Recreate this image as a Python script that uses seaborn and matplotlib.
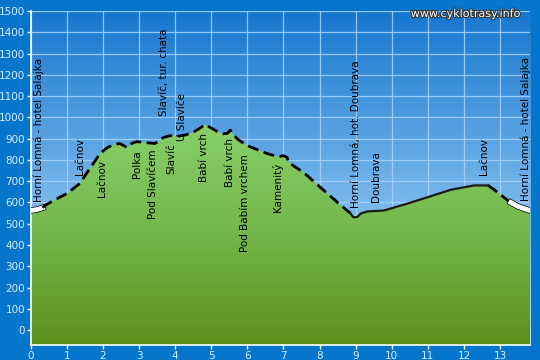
from matplotlib import pyplot as plt
from matplotlib.colors import LinearSegmentedColormap
from matplotlib.patches import Polygon
import matplotlib.patheffects as pe
import numpy as np
import pandas
import seaborn as sns

# elevation profile (km, m)
dist = [0.0, 0.15, 0.33, 0.39, 0.7, 1.0, 1.36, 1.6, 1.92, 2.1, 2.28, 2.47, 2.67, 2.8, 2.94,
        3.22, 3.44, 3.55, 3.67, 3.86, 4.1, 4.3, 4.5, 4.65, 4.83, 5.0, 5.15, 5.33, 5.45, 5.53,
        5.6, 5.75, 6.0, 6.55, 6.85, 7.0, 7.1, 7.14, 7.56, 8.03, 8.5, 8.85, 8.94, 9.05, 9.14,
        9.33, 9.78, 10.44, 11.0, 11.64, 12.28, 12.67, 12.94, 13.22, 13.3, 13.5, 13.83]
elev = [562, 566, 575, 586, 615, 642, 689, 750, 830, 855, 872, 877, 858, 878, 886,
        881, 877, 890, 905, 914, 912, 918, 930, 945, 966, 950, 935, 923, 925, 940,
        920, 895, 867, 830, 815, 820, 812, 788, 741, 670, 600, 550, 530, 532, 548,
        558, 562, 595, 625, 660, 680, 680, 647, 609, 600, 581, 562]

# surface segments: (start km, end km, style)
seg_start = [0.0, 0.33, 8.85, 12.67, 13.3]
seg_end = [0.33, 8.85, 12.67, 13.3, 13.83]
seg_style = ["white", "dashed", "solid", "dashed", "white"]

# place labels
label_text = ["Horní Lomná - hotel Salajka", "Lačnov", "Lačnov", "Polka", "Pod Slavíčem",
              "Slavíč, tur. chata", "Slavíč", "U Slavíče", "Babí vrch", "Babí vrch",
              "Pod Babím vrchem", "Kamenitý", "Horní Lomná, hot. Doubrava", "Doubrava",
              "Lačnov", "Horní Lomná - hotel Salajka"]
label_km = [0.22, 1.36, 1.97, 2.94, 3.39, 3.68, 3.9, 4.2, 4.8, 5.52, 5.94, 6.83, 9.0, 9.56, 12.56, 13.72]
label_elev = [600, 727, 628, 717, 520, 1008, 736, 890, 694, 672, 366, 553, 572, 600, 731, 609]

df = pandas.DataFrame({"km": dist, "m": elev})

fig = plt.figure(figsize=(5.4, 3.6), dpi=100, facecolor="#0676cc")
ax = fig.add_axes([0.0569, 0.0417, 0.9246, 0.9277])
x0, x1, y0, y1 = 0, 13.83, -70, 1500
ax.set_xlim(x0, x1)
ax.set_ylim(y0, y1)

# sky gradient
sky = LinearSegmentedColormap.from_list("sky", ["#b9dcf8", "#6eb0e8", "#1677d0"])
grad = np.linspace(0, 1, 256).reshape(-1, 1)
ax.imshow(grad, extent=[x0, x1, y0, y1], origin="lower", aspect="auto", cmap=sky, zorder=0)

ax.set_xticks(range(0, 14))
ax.set_yticks(range(0, 1501, 100))
ax.grid(True, color="#a8d4ff", linewidth=0.9, alpha=0.85, zorder=1)
ax.set_axisbelow(True)

# terrain fill with green gradient
verts = [(x0, y0)] + list(zip(dist, elev)) + [(x1, y0)]
poly = Polygon(verts, closed=True, facecolor="none", edgecolor="none")
ax.add_patch(poly)
green = LinearSegmentedColormap.from_list("green", ["#5c901e", "#73b64a", "#88d068"])
im = ax.imshow(grad, extent=[x0, x1, y0, max(elev)], origin="lower", aspect="auto", cmap=green, zorder=2)
im.set_clip_path(poly)
ax.set_xlim(x0, x1)
ax.set_ylim(y0, y1)

for s, e, st in zip(seg_start, seg_end, seg_style):
    part = df[(df["km"] >= s) & (df["km"] <= e)]
    if st == "white":
        sns.lineplot(data=part, x="km", y="m", ax=ax, color="white", linewidth=3.5, sort=False,
                     estimator=None, zorder=4,
                     path_effects=[pe.Stroke(linewidth=4.5, foreground="black"), pe.Normal()])
    elif st == "dashed":
        sns.lineplot(data=part, x="km", y="m", ax=ax, color="black", linewidth=2, sort=False,
                     estimator=None, zorder=4, linestyle=(0, (4, 2)))
    else:
        sns.lineplot(data=part, x="km", y="m", ax=ax, color="#1a1a1a", linewidth=1.6, sort=False,
                     estimator=None, zorder=4)

for t, k, m in zip(label_text, label_km, label_elev):
    ax.text(k, m, t, rotation=90, ha="center", va="bottom", fontsize=7.5, color="black", zorder=5)

ax.set_xlabel("")
ax.set_ylabel("")
for sp in ["top", "right"]:
    ax.spines[sp].set_visible(False)
for sp in ["left", "bottom"]:
    ax.spines[sp].set_color("white")
    ax.spines[sp].set_linewidth(1.2)
ax.tick_params(colors="white", labelcolor="#d4ecff", labelsize=7.5, length=3, width=1, pad=1)

fig.text(0.965, 0.975, "www.cyklotrasy.info", ha="right", va="top", fontsize=8, color="white",
         path_effects=[pe.withStroke(linewidth=1.5, foreground="#333333")])

plt.savefig("out.png", dpi=100, facecolor=fig.get_facecolor())
